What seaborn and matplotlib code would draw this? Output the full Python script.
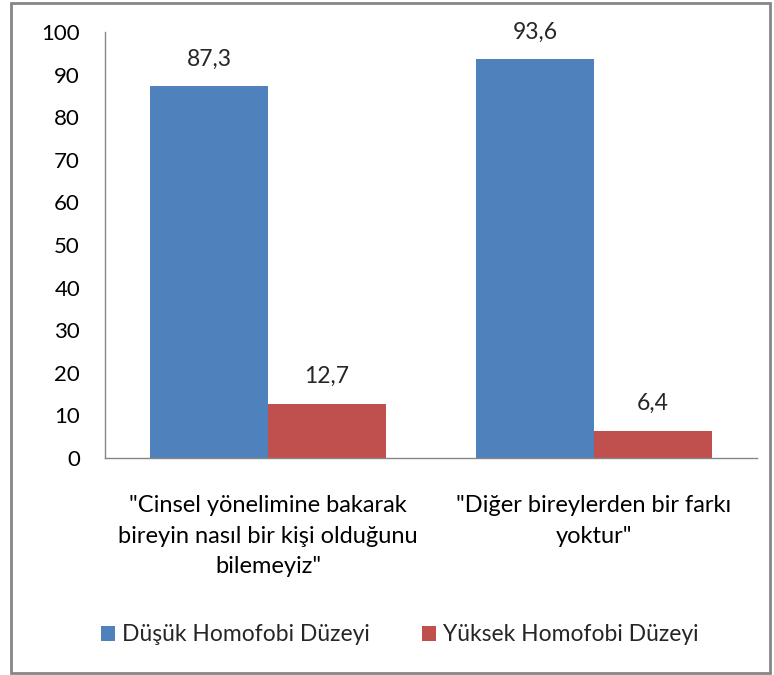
import matplotlib
matplotlib.use("Agg")
import matplotlib.pyplot as plt
from matplotlib.patches import Rectangle
import seaborn as sns
import pandas as pd

# Data
categories = ['"Cinsel yönelimine bakarak\nbireyin nasıl bir kişi olduğunu\nbilemeyiz"',
              '"Diğer bireylerden bir farkı\nyoktur"']
series = ["Düşük Homofobi Düzeyi", "Yüksek Homofobi Düzeyi"]
dusuk = [87.3, 93.6]
yuksek = [12.7, 6.4]
colors = ["#4F81BD", "#C0504D"]

df = pd.DataFrame({
    "kategori": categories * 2,
    "seri": [series[0]] * 2 + [series[1]] * 2,
    "deger": dusuk + yuksek,
})

sns.set_theme(style="white")
plt.rcParams["font.family"] = ["Lato", "DejaVu Sans"]

fig = plt.figure(figsize=(7.74, 6.75), dpi=100)
ax = fig.add_axes([0.1357, 0.3215, 0.842, 0.6311])

sns.barplot(data=df, x="kategori", y="deger", hue="seri", palette=colors,
            width=0.724, saturation=1, linewidth=0, ax=ax, legend=True)

ax.set_ylim(0, 100)
ax.set_xlim(-0.5, 1.5)
ax.set_yticks(range(0, 101, 10))
ax.tick_params(axis="y", labelsize=16, length=0, pad=18, colors="black")
ax.tick_params(axis="x", labelsize=17, length=0, pad=27, colors="black")
for lbl in ax.get_xticklabels():
    lbl.set_linespacing(1.55)
ax.set_xlabel("")
ax.set_ylabel("")

for s in ["top", "right"]:
    ax.spines[s].set_visible(False)
for s in ["left", "bottom"]:
    ax.spines[s].set_color("#868686")
    ax.spines[s].set_linewidth(1)

for cont in ax.containers:
    ax.bar_label(cont, labels=[f"{v:.1f}".replace(".", ",") for v in cont.datavalues],
                 padding=12, fontsize=16.5)

ax.legend(loc="center", bbox_to_anchor=(0.452, -0.4155), ncol=2, frameon=False,
          fontsize=16.5, handlelength=0.6, handleheight=0.6, columnspacing=2.3,
          handletextpad=0.3)

fig.patches.append(Rectangle((0.0142, 0.003), 0.98, 0.992, transform=fig.transFigure,
                             fill=False, edgecolor="#868686", linewidth=2))

fig.savefig("out.png", dpi=100)
